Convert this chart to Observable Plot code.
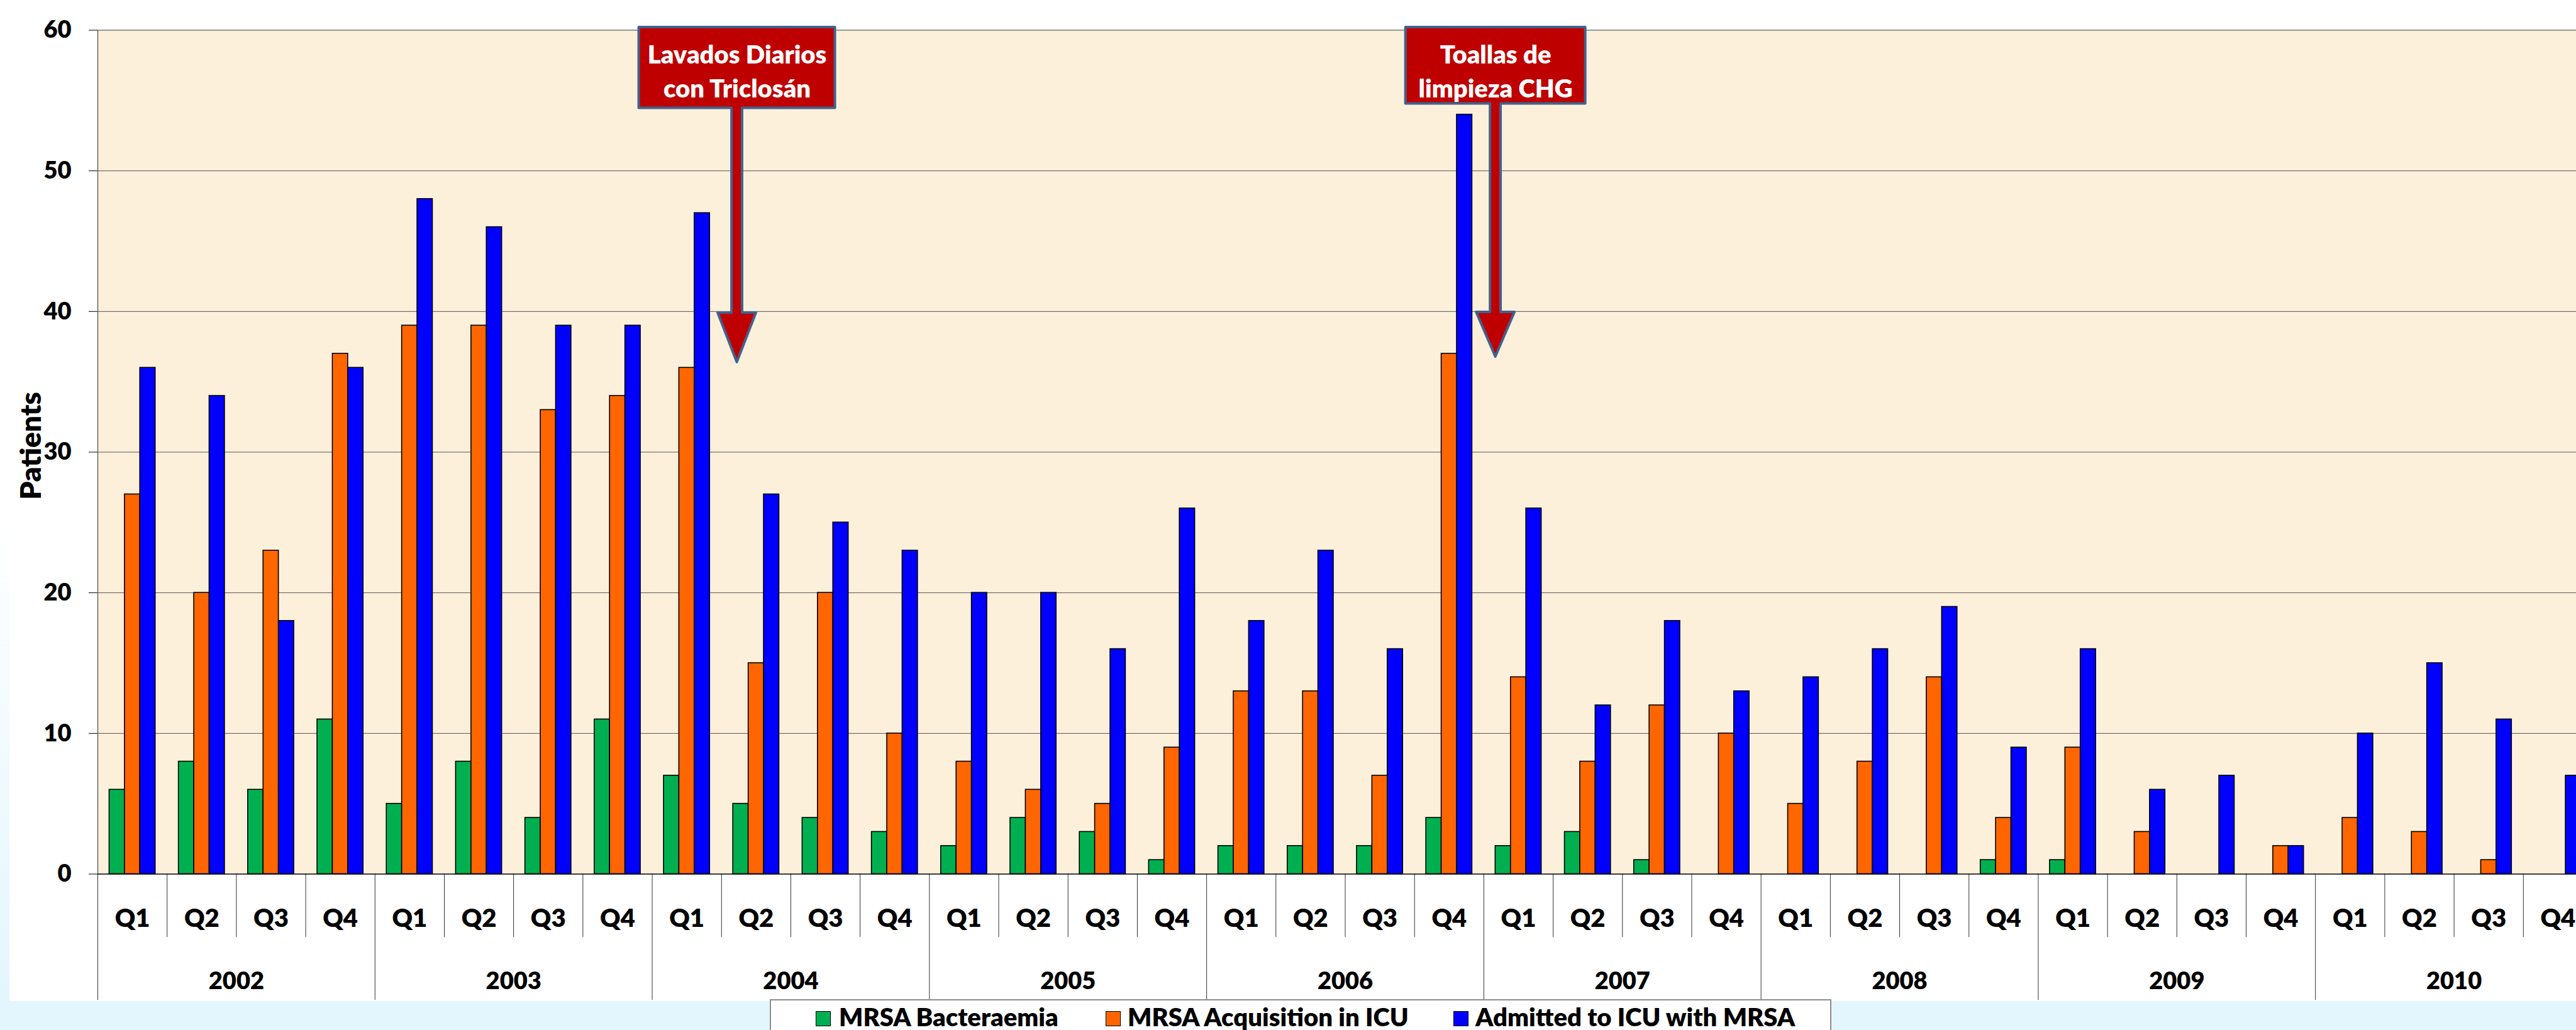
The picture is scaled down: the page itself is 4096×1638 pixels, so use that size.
<!DOCTYPE html>
<html>
<head>
<meta charset="utf-8">
<script src="https://cdn.jsdelivr.net/npm/d3@7"></script>
<script src="https://cdn.jsdelivr.net/npm/@observablehq/plot@0.6"></script>
<style>
  html, body { margin: 0; padding: 0; }
  body {
    width: 4096px; height: 1638px; overflow: hidden; position: relative;
    background: linear-gradient(to bottom, #ffffff 0px, #ffffff 830px, #e3f6fd 1600px);
    font-family: Lato, "Open Sans", sans-serif;
  }
  #panel { position: absolute; left: 15px; top: 0; width: 4200px; height: 1592px; background: #ffffff; }
  #bottomband { position: absolute; left: 0; top: 1592px; width: 4096px; height: 60px; background: #e3f6fd; }
  #chart { position: absolute; left: 0; top: 0; width: 4126px; }
  #legend {
    position: absolute; left: 1224px; top: 1589px; width: 1688px; height: 70px;
    background: #ffffff; border: 2px solid #8c8c8c; box-sizing: border-box;
  }
  #legend .sw { position: absolute; top: 17px; width: 24px; height: 24px; border: 1.5px solid #000; box-sizing: border-box; }
  #legend .lb { position: absolute; top: 5.5px; font: 800 40px/40px Lato, sans-serif; color: #000; white-space: nowrap; }
</style>
</head>
<body>
<div id="panel"></div>
<div id="bottomband"></div>
<div id="chart"></div>
<div id="legend"></div>
<script>
// ---------------- data ----------------
const years = ["2002", "2003", "2004", "2005", "2006", "2007", "2008", "2009", "2010"];
const quarters = ["Q1", "Q2", "Q3", "Q4"];
const series = ["MRSA Bacteraemia", "MRSA Acquisition in ICU", "Admitted to ICU with MRSA"];
const seriesColors = ["#00b050", "#ff6600", "#0000ff"];

// one value per quarter, 2002 Q1 ... 2010 Q4
const bacteraemia = [6, 8, 6, 11,  5, 8, 4, 11,  7, 5, 4, 3,  2, 4, 3, 1,  2, 2, 2, 4,  2, 3, 1, 0,  0, 0, 0, 1,  1, 0, 0, 0,  0, 0, 0, 0];
const acquisition = [27, 20, 23, 37,  39, 39, 33, 34,  36, 15, 20, 10,  8, 6, 5, 9,  13, 13, 7, 37,  14, 8, 12, 10,  5, 8, 14, 4,  9, 3, 0, 2,  4, 3, 1, 0];
const admitted    = [36, 34, 18, 36,  48, 46, 39, 39,  47, 27, 25, 23,  20, 20, 16, 26,  18, 23, 16, 54,  26, 12, 18, 13,  14, 16, 19, 9,  16, 6, 7, 2,  10, 15, 11, 7];

const yTicks = [0, 10, 20, 30, 40, 50, 60];
const yLabel = "Patients";

// annotation callouts: label, anchor (quarter units), box top / arrow neck / arrow tip (patients)
const calloutLabels = ["Lavados Diarios\ncon Triclosán", "Toallas de\nlimpieza CHG"];
const calloutAt = [9.225, 20.17];
const calloutTop = [60.2, 60.2];
const calloutNeck = [39.9, 39.95];
const calloutTip = [36.38, 36.77];

// ---------------- table ----------------
const valuesBySeries = [bacteraemia, acquisition, admitted];
const rows = [];
const qrows = [];
years.forEach((yr, yi) => quarters.forEach((q, qi) => {
  const i = yi * 4 + qi;
  qrows.push({i, q, year: yr});
  valuesBySeries.forEach((arr, k) => rows.push({i, k, series: series[k], value: arr[i]}));
}));
const yrows = years.map((yr, yi) => ({i: yi * 4, year: yr}));
const callouts = calloutLabels.map((label, j) => ({
  label, at: calloutAt[j], top: calloutTop[j], neck: calloutNeck[j], tip: calloutTip[j]
}));

// ---------------- layout constants ----------------
const PAD = 0.1675;   // gap before first bar in each quarter slot
const BW = 0.2215;    // bar width in quarter units
const FONT = "Lato, 'Open Sans', sans-serif";
const FS = 40;
const FW = 800;
const boxSize = [{w: 312, h: 128.5}, {w: 286, h: 121.4}];

function calloutShapes(index, {x, y}) {
  const g = d3.create("svg:g");
  callouts.forEach((a, j) => {
    const cx = x(a.at), top = y(a.top), tip = y(a.tip), neck = y(a.neck);
    const {w, h} = boxSize[j];
    const L = cx - w / 2, R = cx + w / 2, B = top + h;
    const sw = 8.4, hw = 30.5;
    const pts = [[L, top], [R, top], [R, B], [cx + sw, B], [cx + sw, neck], [cx + hw, neck],
                 [cx, tip], [cx - hw, neck], [cx - sw, neck], [cx - sw, B], [L, B]];
    g.append("path")
      .attr("d", "M" + pts.map(p => p.join(",")).join("L") + "Z")
      .attr("fill", "#bf0000")
      .attr("stroke", "#42628d")
      .attr("stroke-width", 4)
      .attr("stroke-linejoin", "round");
  });
  return g.node();
}

const plot = Plot.plot({
  width: 4126,
  height: 1589,
  marginLeft: 155,
  marginRight: 4,
  marginTop: 47.5,
  marginBottom: 199.5,
  style: {background: "transparent", maxWidth: "none", overflow: "visible", fontFamily: FONT, fontSize: (FS - 2) + "px", fontWeight: FW, color: "#000"},
  x: {type: "linear", domain: [0, 36], axis: null},
  y: {domain: [0, 60], ticks: 6, tickSize: 14, tickPadding: 28, label: null, tickFormat: d => String(d)},
  color: {domain: series, range: seriesColors},
  marks: [
    Plot.frame({fill: "#fcf0db", stroke: null}),
    Plot.ruleY(yTicks.filter(v => v > 0 && v < 60), {stroke: "#555", strokeWidth: 1}),
    Plot.ruleY([60], {stroke: "#9a9a9a", strokeWidth: 2}),
    Plot.ruleX([0], {stroke: "#666", strokeWidth: 1.5}),
    // category dividers below the axis
    Plot.ruleX(qrows.filter(d => d.i % 4 !== 0), {x: "i", y1: d => 0, y2: d => 0, insetBottom: -100.7, stroke: "#333", strokeWidth: 1}),
    Plot.ruleX(yrows, {x: "i", y1: d => 0, y2: d => 0, insetBottom: -200.7, stroke: "#333", strokeWidth: 1}),
    Plot.ruleX([36], {y1: d => 0, y2: d => 0, insetBottom: -200.7, stroke: "#333", strokeWidth: 1}),
    // bars
    Plot.rect(rows.filter(d => d.value > 0), {
      x1: d => d.i + PAD + d.k * BW,
      x2: d => d.i + PAD + (d.k + 1) * BW,
      y1: d => 0,
      y2: "value",
      fill: "series",
      stroke: "#000",
      strokeWidth: 1.6
    }),
    Plot.ruleY([0], {stroke: "#000", strokeWidth: 1.6}),
    // x labels
    Plot.text(qrows, {x: d => d.i + 0.5, y: d => 0, text: "q", dy: 70.7, lineAnchor: "middle", fontSize: FS, fontWeight: FW, fill: "#000"}),
    Plot.text(yrows, {x: d => d.i + 2, y: d => 0, text: "year", dy: 170.7, lineAnchor: "middle", fontSize: FS - 2, fontWeight: FW, fill: "#000"}),
    // y label
    Plot.text([yLabel], {frameAnchor: "left", textAnchor: "middle", lineAnchor: "middle", dx: -105, dy: -10, rotate: -90, fontSize: 46, fontWeight: FW, fill: "#000"}),
    // callouts
    calloutShapes,
    Plot.text(callouts, {x: "at", y: "top", text: "label", dy: 19, lineAnchor: "top", lineHeight: 1.35, fill: "#ffffff", fontSize: FS, fontWeight: FW})
  ]
});
document.getElementById("chart").append(plot);

// legend (below the SVG)
const legend = document.getElementById("legend");
const swLeft = [71, 532, 1085];
const lbLeft = [108, 567, 1120];
series.forEach((s, k) => {
  const sw = document.createElement("div");
  sw.className = "sw";
  sw.style.left = swLeft[k] + "px";
  sw.style.background = seriesColors[k];
  legend.append(sw);
  const lb = document.createElement("span");
  lb.className = "lb";
  lb.style.left = lbLeft[k] + "px";
  lb.textContent = s;
  legend.append(lb);
});
</script>
</body>
</html>
